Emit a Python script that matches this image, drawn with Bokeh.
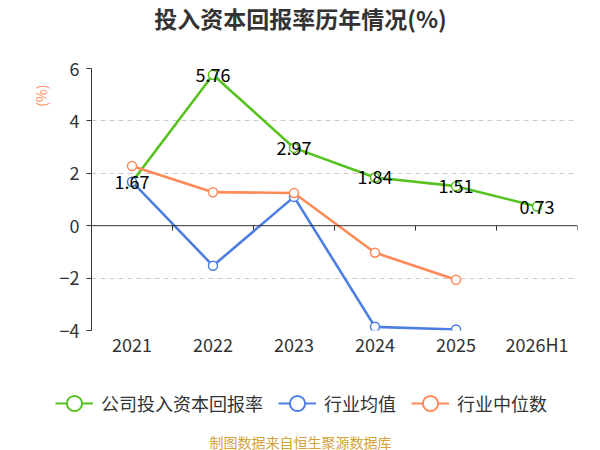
from bokeh.plotting import figure
from bokeh.layouts import column
from bokeh.models import ColumnDataSource, FixedTicker, Legend, LegendItem, Label, Span, Title, Range1d
from bokeh.core.properties import value
from bokeh.embed import file_html
from bokeh.resources import INLINE
import numpy as np

years = ["2021", "2022", "2023", "2024", "2025", "2026H1"]
company = [1.67, 5.76, 2.97, 1.84, 1.51, 0.73]
ind_mean = [1.68, -1.53, 1.10, -3.86, -3.96]
ind_median = [2.28, 1.28, 1.25, -1.03, -2.06]
y_ticks = [-4, -2, 0, 2, 4, 6]
names = ["公司投入资本回报率", "行业均值", "行业中位数"]
colors = ["#55C21E", "#4D7FE3", "#FF8A58"]
title_text = "投入资本回报率历年情况(%)"
source_text = "制图数据来自恒生聚源数据库"

FONT = "Noto Sans CJK SC"
W = 600


def blank(h):
    f = figure(width=W, height=h, x_range=Range1d(0, 1), y_range=Range1d(0, 1),
               output_backend="svg", toolbar_location=None,
               min_border_left=0, min_border_right=0, min_border_top=0, min_border_bottom=0)
    f.axis.visible = False
    f.grid.visible = False
    f.outline_line_color = None
    f.frame_align = False
    return f


# ---- title strip
t = blank(56)
t.add_layout(Label(x=W / 2, y=39, x_units="screen", y_units="screen", text=title_text,
                   text_align="center", text_baseline="middle", text_font=FONT,
                   text_font_size="23px", text_font_style="bold", text_color="#333333"))

# ---- main chart
p = figure(width=W, height=314, x_range=(-0.5, len(years) - 0.5), y_range=(-4, 6),
           output_backend="svg", toolbar_location=None,
           min_border_left=91, min_border_right=23, min_border_top=12, min_border_bottom=40)
p.outline_line_color = None
p.frame_align = False

p.yaxis.ticker = FixedTicker(ticks=y_ticks)
p.yaxis.axis_line_color = "#333333"
p.yaxis.major_tick_line_color = "#333333"
p.yaxis.major_tick_out = 5
p.yaxis.major_tick_in = 0
p.yaxis.minor_tick_line_color = None
p.yaxis.major_label_text_font = FONT
p.yaxis.major_label_text_font_size = "18px"
p.yaxis.major_label_text_color = "#333333"
p.yaxis.major_label_standoff = 7

xi = list(range(len(years)))
p.xaxis.ticker = FixedTicker(ticks=xi)
p.xaxis.major_label_overrides = {i: y for i, y in enumerate(years)}
p.xaxis.axis_line_color = None
p.xaxis.major_tick_line_color = None
p.xaxis.minor_tick_line_color = None
p.xaxis.major_tick_out = 0
p.xaxis.major_label_text_font = FONT
p.xaxis.major_label_text_font_size = "18px"
p.xaxis.major_label_text_color = "#333333"
p.xaxis.major_label_standoff = 0

p.xgrid.grid_line_color = None
p.ygrid.ticker = FixedTicker(ticks=[v for v in y_ticks if v != 0])
p.ygrid.grid_line_color = "#CCCCCC"
p.ygrid.grid_line_dash = "5 4"
p.ygrid.grid_line_width = 1

p.add_layout(Span(location=0, dimension="width", line_color="#333333", line_width=1))
bounds = np.arange(len(years) + 1) - 0.5
p.segment(x0=bounds, y0=0, x1=bounds, y1=-0.19, line_color="#333333", line_width=1)

series = [company, ind_mean, ind_median]
for vals, c in zip(series, colors):
    src = ColumnDataSource(dict(x=xi[:len(vals)], y=vals))
    p.line("x", "y", source=src, line_color=c, line_width=2.6)
    p.scatter("x", "y", source=src, size=9, fill_color="white", line_color=c, line_width=1.5)

lab = ColumnDataSource(dict(x=xi, y=company, t=[f"{v:.2f}" for v in company]))
p.text("x", "y", text="t", source=lab, text_align="center", text_baseline="middle",
       text_font=value(FONT), text_font_size="18px", text_color="#000000")

unit = Title(text="(%)", align="right", offset=16, text_font=FONT, text_font_size="14px",
             text_font_style="normal", text_color="#FF8A58", standoff=12)
p.add_layout(unit, "left")

# ---- legend + source strip
q = blank(80)
items = []
for n, c in zip(names, colors):
    r1 = q.line(x=[-3, -2], y=[-3, -3], line_color=c, line_width=2)
    r2 = q.scatter(x=[-3], y=[-3], size=8, fill_color="white", line_color=c, line_width=2)
    items.append(LegendItem(label=n, renderers=[r1, r2]))
leg = Legend(items=items, orientation="horizontal", location=(55, 27),
             glyph_width=38, glyph_height=40, label_text_font=FONT, label_text_font_size="18px",
             label_text_color="#333333", spacing=15, label_standoff=8, padding=0, margin=0,
             border_line_color=None, background_fill_alpha=0)
q.add_layout(leg, "center")
q.add_layout(Label(x=W / 2, y=9, x_units="screen", y_units="screen", text=source_text,
                   text_align="center", text_baseline="middle", text_font=FONT,
                   text_font_size="14px", text_color="#D4A23A"))

layout = column(t, p, q, spacing=0)
open("out.html", "w").write(file_html(layout, INLINE))
